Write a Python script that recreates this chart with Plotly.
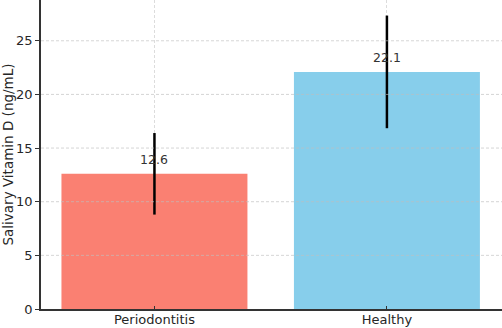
import plotly.graph_objects as go

categories = ["Periodontitis", "Healthy"]
means = [12.6, 22.1]
errors = [3.8, 5.25]
colors = ["#FA8072", "#87CEEB"]
y_ticks = [0, 5, 10, 15, 20, 25]
label_offset = 1.37

fig = go.Figure()
fig.add_trace(go.Bar(
    x=categories, y=means, width=0.8,
    marker=dict(color=colors, line=dict(width=0)),
    error_y=dict(type="data", array=errors, color="black", thickness=2.5, width=0),
    showlegend=False,
))

for c, m in zip(categories, means):
    fig.add_annotation(x=c, y=m + label_offset, text=f"{m:.1f}", showarrow=False,
                       font=dict(family="DejaVu Sans", size=12.5, color="#333333"),
                       xanchor="center", yanchor="middle")

grid_color = "rgba(190,190,190,0.65)"
for t in y_ticks[1:]:
    fig.add_shape(type="line", xref="paper", x0=0, x1=1, yref="y", y0=t, y1=t,
                  line=dict(color=grid_color, width=1, dash="3px,2px"), layer="above")

fig.update_layout(
    width=502, height=328,
    margin=dict(l=41, r=0, t=0, b=19),
    paper_bgcolor="white", plot_bgcolor="white",
    font=dict(family="DejaVu Sans", size=13, color="#262626"),
    xaxis=dict(range=[-0.488, 1.495], showgrid=True, gridcolor="#dcdcdc", griddash="3px,2px",
               gridwidth=1, showline=True, linecolor="#333333",
               linewidth=1.5, ticks="inside", ticklen=3, tickcolor="#333333",
               tickfont=dict(size=13), zeroline=False, ticklabelstandoff=-2),
    yaxis=dict(range=[0, 28.8], tickvals=y_ticks, showgrid=False, showline=True,
               linecolor="#333333", linewidth=1.5, ticks="outside", ticklen=4,
               tickcolor="#333333", tickfont=dict(size=13), zeroline=False,
               title=dict(text="Salivary Vitamin D (ng/mL)", font=dict(size=13.5), standoff=5)),
)

fig.write_html("out.html")
